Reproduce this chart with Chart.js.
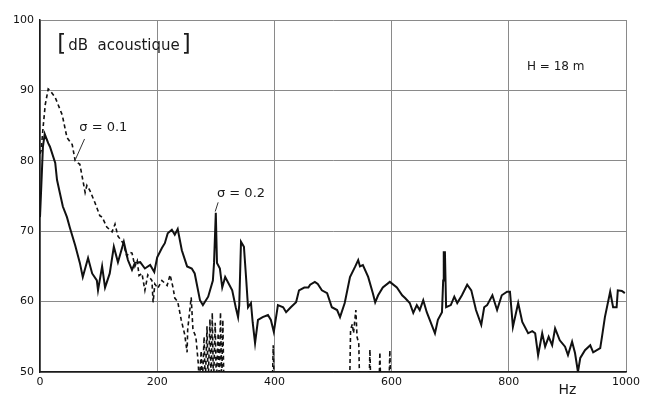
<!DOCTYPE html>
<html>
<head>
<meta charset="utf-8">
<script src="https://cdn.jsdelivr.net/npm/chart.js@4/dist/chart.umd.min.js"></script>
<style>
  html, body { margin: 0; padding: 0; background: #ffffff; }
  #wrap { width: 650px; height: 395px; }
</style>
</head>
<body>
<div id="wrap"><canvas id="c" width="650" height="395"></canvas></div>
<script>
// Sound pressure level spectrum, H = 18 m, for two values of sigma.

// sigma = 0.2 (solid line)
const freqSigma02 = [
  0, 3, 5, 8, 14, 17, 26, 29, 34, 39, 46, 51, 60, 68, 73, 82, 89, 97, 99, 106,
  111, 119, 126, 133, 143, 150, 157, 162, 171, 179, 188, 195, 200, 208, 213, 218, 225, 230, 235, 242,
  251, 259, 264, 273, 278, 287, 295, 297, 300, 302, 307, 311, 316, 328, 334, 338, 340, 343, 348, 352,
  355, 360, 363, 367, 372, 380, 389, 394, 399, 406, 415, 420, 428, 437, 442, 451, 458, 461, 469, 474,
  481, 490, 498, 507, 512, 520, 529, 538, 543, 546, 551, 560, 568, 572, 577, 585, 597, 609, 618, 623,
  631, 637, 643, 648, 654, 660, 674, 679, 686, 688, 689, 691, 693, 701, 707, 712, 720, 729, 736, 744,
  753, 758, 763, 772, 780, 788, 797, 802, 807, 816, 823, 833, 840, 845, 850, 857, 862, 868, 874, 879,
  887, 896, 901, 908, 913, 918, 922, 930, 939, 944, 956, 959, 964, 973, 978, 984, 986, 993, 998
];
const levelSigma02 = [
  72, 78, 82, 83.8, 82.5, 82, 79.7, 77.3, 75.4, 73.5, 72, 70.5, 68, 65.5, 63.5, 66.2, 64, 63, 61.6, 65,
  62, 64, 67.8, 65.6, 68.5, 65.9, 64.5, 65.5, 65.6, 64.7, 65.2, 64.2, 66.3, 67.6, 68.3, 69.7, 70.2, 69.5, 70.3, 67.3,
  65, 64.7, 64, 60.2, 59.5, 60.7, 63, 65.5, 72.6, 65.5, 64.7, 62, 63.5, 61.6, 59.2, 57.8, 59.5, 68.5, 67.8, 63,
  59.2, 59.8, 57, 54.1, 57.4, 57.8, 58.1, 57.4, 55.7, 59.5, 59.2, 58.5, 59.2, 59.9, 61.6, 62, 62, 62.4, 62.8, 62.5,
  61.6, 61.2, 59.2, 58.8, 57.8, 59.8, 63.5, 65, 65.9, 65, 65.2, 63.5, 61.2, 59.9, 60.9, 62, 62.8, 62, 60.9, 60.5,
  59.8, 58.4, 59.5, 58.8, 60.2, 58.5, 55.5, 57.4, 58.5, 63, 67, 67, 59.2, 59.5, 60.7, 59.8, 60.9, 62.4, 61.6, 58.8,
  56.7, 59.2, 59.5, 60.9, 58.8, 60.9, 61.4, 61.4, 56.4, 59.8, 57.1, 55.5, 55.8, 55.5, 52.4, 55.5, 53.6, 55, 53.8, 56.2,
  54.5, 53.6, 52.4, 54.3, 52.7, 50, 52, 53.1, 53.8, 52.8, 53.4, 55, 57.8, 61.4, 59.2, 59.2, 61.6, 61.5, 61.2
];

// sigma = 0.1 (dashed line); values under 50 dB fall below the plotted range
const freqSigma01 = [
  0, 2, 5, 9, 14, 17, 26, 38, 46, 55, 60, 68, 73, 77, 80, 85, 94, 102, 106, 114,
  123, 128, 133, 142, 148, 154, 157, 162, 166, 169, 174, 179, 184, 191, 193, 196, 201, 208, 217, 222,
  227, 230, 235, 241, 247, 251, 252, 258, 261, 266, 270, 272, 275, 277, 280, 282, 285, 287, 290, 292,
  294, 296, 299, 301, 304, 306, 308, 310, 312, 314, 396, 398, 400, 528, 530, 533, 535, 539, 541, 544,
  546, 561, 563, 565, 578, 580, 582, 595, 597, 599
];
const levelSigma01 = [
  81, 81.5, 84.5, 88, 90.2, 90, 89, 86.5, 83.3, 82.3, 80, 79.5, 77.3, 75.5, 76.5, 75.8, 74, 72.2, 72, 70.6,
  69.9, 71, 69.3, 68.3, 66.5, 67, 66.9, 65, 65.8, 63.7, 64, 61.6, 63.8, 63, 59.9, 62.5, 61.9, 63, 62.3, 63.8,
  62, 60.5, 60, 57.4, 55.3, 52.8, 56, 60.6, 56, 55, 51.3, 48, 53, 48, 55, 48, 56.5, 48, 57.5, 48,
  58.4, 48, 57, 48, 55.5, 48, 58.5, 48, 57.4, 47, 46, 53.8, 46, 46, 56, 56.8, 55.5, 58.8, 55, 54,
  46, 46, 53.2, 46, 46, 52.8, 46, 46, 53.1, 46
];

const xTickValues = [0, 200, 400, 600, 800, 1000];
const xTickLabels = ['0', '200', '400', '600', '800', '1000'];
const yTickValues = [50, 60, 70, 80, 90, 100];
const yTickLabels = ['50', '60', '70', '80', '90', '100'];
const xUnit = 'Hz';

const toPoints = (xs, ys) => xs.map((x, i) => ({ x: x, y: ys[i] }));

// Text labels placed in data coordinates
const notes = {
  unit:   { text: 'dB  acoustique', x: 31, y: 96.4 },
  height: { text: 'H = 18 m', x: 831, y: 93.3 },
  sig01:  { text: 'σ = 0.1', x: 67, y: 84.7, from: [60.5, 80.2], to: [76, 83.1] },
  sig02:  { text: 'σ = 0.2', x: 302, y: 75.3, from: [299, 72.8], to: [304, 74.1] }
};

const annotationPlugin = {
  id: 'notes',
  afterDraw(chart) {
    const { ctx, scales: { x, y } } = chart;
    ctx.save();
    ctx.fillStyle = '#1a1a1a';
    ctx.strokeStyle = '#333';
    ctx.textBaseline = 'middle';
    ctx.textAlign = 'left';

    // [dB acoustique]
    let px = x.getPixelForValue(notes.unit.x);
    let py = y.getPixelForValue(notes.unit.y);
    ctx.font = '23px "DejaVu Sans"';
    ctx.fillText('[', px - 1, py);
    ctx.font = '15px "DejaVu Sans"';
    const w = ctx.measureText(notes.unit.text).width;
    ctx.fillText(notes.unit.text, px + 10, py + 1);
    ctx.font = '23px "DejaVu Sans"';
    ctx.fillText(']', px + 12 + w, py);

    // H = 18 m
    ctx.font = '12px "DejaVu Sans"';
    ctx.fillText(notes.height.text, x.getPixelForValue(notes.height.x), y.getPixelForValue(notes.height.y));

    // sigma labels with leader lines
    [notes.sig01, notes.sig02].forEach(n => {
      ctx.font = '13px "DejaVu Sans"';
      ctx.fillText(n.text, x.getPixelForValue(n.x), y.getPixelForValue(n.y));
      ctx.lineWidth = 1;
      ctx.beginPath();
      ctx.moveTo(x.getPixelForValue(n.from[0]), y.getPixelForValue(n.from[1]));
      ctx.lineTo(x.getPixelForValue(n.to[0]), y.getPixelForValue(n.to[1]));
      ctx.stroke();
    });

    // frequency unit under the axis
    ctx.font = '14px "DejaVu Sans"';
    ctx.textAlign = 'center';
    ctx.textBaseline = 'top';
    ctx.fillText(xUnit, x.getPixelForValue(900), y.bottom + 11);
    ctx.restore();
  }
};

const whiteBg = {
  id: 'whiteBg',
  beforeDraw(chart) {
    const { ctx, width, height } = chart;
    ctx.save();
    ctx.fillStyle = '#ffffff';
    ctx.fillRect(0, 0, width, height);
    ctx.restore();
  }
};

new Chart(document.getElementById('c'), {
  type: 'line',
  data: {
    datasets: [
      {
        label: 'σ = 0.2',
        data: toPoints(freqSigma02, levelSigma02),
        borderColor: '#111111',
        borderWidth: 2,
        pointRadius: 0,
        tension: 0,
        fill: false,
        clip: 0
      },
      {
        label: 'σ = 0.1',
        data: toPoints(freqSigma01, levelSigma01),
        borderColor: '#111111',
        borderWidth: 1.6,
        borderDash: [4, 3],
        pointRadius: 0,
        tension: 0,
        fill: false,
        clip: 0
      }
    ]
  },
  options: {
    responsive: false,
    animation: false,
    devicePixelRatio: 1,
    layout: { padding: { top: 20, right: 24, left: 0, bottom: 0 } },
    plugins: { legend: { display: false }, tooltip: { enabled: false } },
    scales: {
      x: {
        type: 'linear',
        min: 0,
        max: 1000,
        afterFit(s) { s.height = 23; },
        afterBuildTicks(s) { s.ticks = xTickValues.map(v => ({ value: v })); },
        ticks: {
          padding: 4,
          maxRotation: 0,
          color: '#111',
          font: { family: '"DejaVu Sans"', size: 11 },
          callback: (v) => xTickLabels[xTickValues.indexOf(v)]
        },
        grid: { color: '#8a8a8a', lineWidth: 1, drawTicks: false },
        border: { color: '#1a1a1a', width: 1.5 }
      },
      y: {
        min: 50,
        max: 100,
        afterFit(s) { s.width = 40; },
        afterBuildTicks(s) { s.ticks = yTickValues.map(v => ({ value: v })); },
        ticks: {
          padding: 6,
          color: '#111',
          font: { family: '"DejaVu Sans"', size: 11 },
          callback: (v) => yTickLabels[yTickValues.indexOf(v)]
        },
        grid: { color: '#8a8a8a', lineWidth: 1, drawTicks: false },
        border: { color: '#1a1a1a', width: 1.5 }
      }
    }
  },
  plugins: [whiteBg, annotationPlugin]
});
</script>
</body>
</html>
